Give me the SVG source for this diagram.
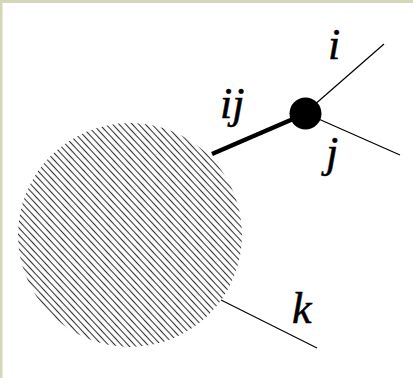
<svg xmlns="http://www.w3.org/2000/svg" width="413" height="378" viewBox="0 0 413 378">
<style>
.lbl{font-family:"Liberation Serif","Times New Roman",serif;font-style:italic;font-size:44px;fill:#000;stroke:#000;stroke-width:0.5}
.thin{stroke:#000;stroke-width:1.2;fill:none}
</style>
<defs>
<pattern id="hatch" patternUnits="userSpaceOnUse" width="20" height="4.8" patternTransform="rotate(47)">
<line x1="0" y1="2.4" x2="20" y2="2.4" stroke="#333" stroke-width="1.1"/>
</pattern>
</defs>
<rect x="0" y="0" width="413" height="378" fill="#fff"/>
<rect x="0" y="0" width="413" height="3" fill="#d6d6b8"/>
<rect x="0" y="0" width="2.5" height="378" fill="#d6d6b8"/>
<g id="blob"><circle cx="130" cy="235" r="112" fill="url(#hatch)"/></g>
<g id="connectors">
<line x1="212" y1="154" x2="300" y2="116" stroke="#000" stroke-width="4.5"/>
<line class="thin" x1="305" y1="113" x2="384" y2="44"/>
<line class="thin" x1="305" y1="113" x2="400" y2="155"/>
<line class="thin" x1="221" y1="300" x2="317" y2="348"/>
</g>
<g id="vertex"><circle cx="305.5" cy="113.5" r="16" fill="#000"/></g>
<g id="labels">
<text class="lbl" x="328" y="59">i</text>
<text class="lbl" x="220" y="118">ij</text>
<text class="lbl" x="326" y="167">j</text>
<text class="lbl" x="292" y="323">k</text>
</g>
</svg>
